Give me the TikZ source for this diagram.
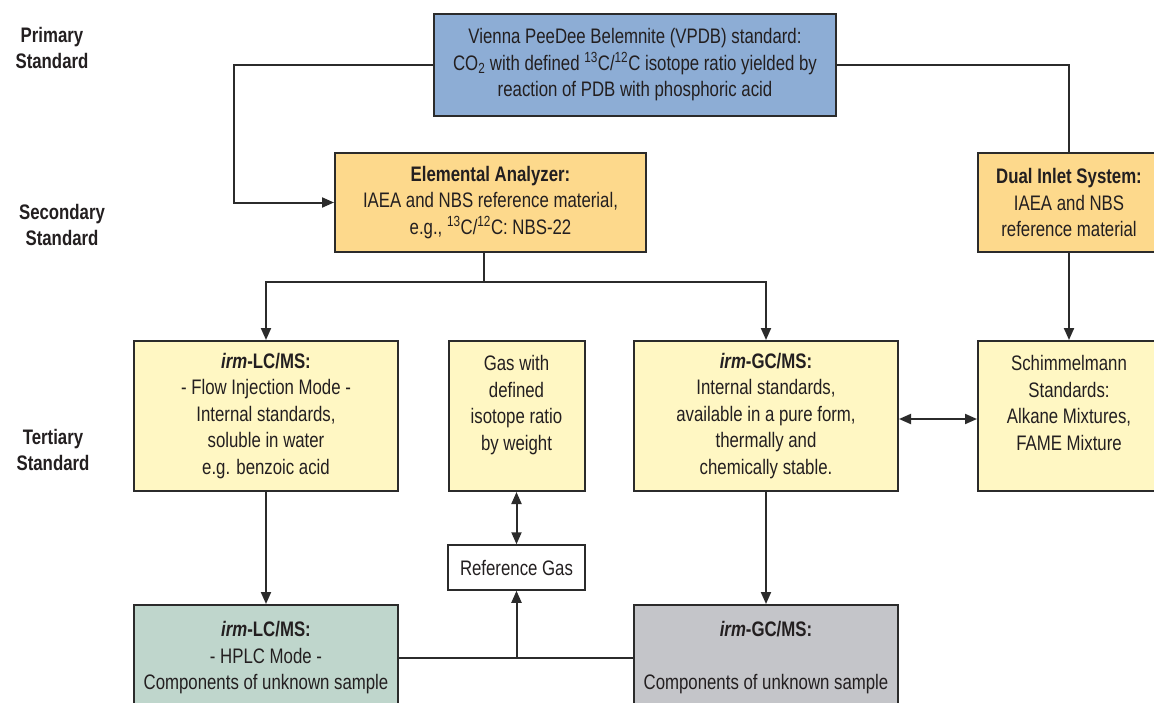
\documentclass[tikz,border=0pt]{standalone}
\usepackage{fontspec}
\setmainfont[FakeStretch=0.8]{Liberation Sans}
\usetikzlibrary{arrows.meta}
\definecolor{txt}{HTML}{231F20}
\definecolor{bord}{HTML}{2B2B2B}
\definecolor{cblue}{HTML}{8DADD5}
\definecolor{corange}{HTML}{FDD98C}
\definecolor{cyellow}{HTML}{FFF7C3}
\definecolor{cgreen}{HTML}{BFD6CC}
\definecolor{cgray}{HTML}{C4C5C9}
\begin{document}
\begin{tikzpicture}[x=1pt,y=-1pt,
  font=\fontsize{21}{26.5}\selectfont, text=txt,
  box/.style={draw=bord, line width=2pt, inner sep=0pt, align=center},
  conn/.style={line width=2pt, draw=bord},
  arr/.style={conn, -{Triangle[length=12pt,width=10pt]}},
  darr/.style={conn, {Triangle[length=12pt,width=10pt]}-{Triangle[length=12pt,width=10pt]}},
  lab/.style={font=\fontsize{21}{26.5}\selectfont\bfseries, align=center}]
\useasboundingbox (0,0) rectangle (1154,702);
\fill[white] (0,0) rectangle (1154,702);

% level labels
\node[lab] (lp) at (52,48) {Primary\\Standard};
\node[lab] (ls) at (62,225) {Secondary\\Standard};
\node[lab] (lt) at (53,450) {Tertiary\\Standard};

% boxes
\node[box, fill=cblue, minimum width=402, minimum height=102] (prim) at (635,65)
  {Vienna PeeDee Belemnite (VPDB) standard:\\
   CO\textsubscript{2} with defined \textsuperscript{13}C/\textsuperscript{12}C isotope ratio yielded by\\
   reaction of PDB with phosphoric acid};
\node[box, fill=corange, minimum width=311, minimum height=99] (ea) at (490.5,202.5)
  {\textbf{Elemental Analyzer:}\\ IAEA and NBS reference material,\\ e.g., \textsuperscript{13}C/\textsuperscript{12}C: NBS-22};
\node[box, fill=corange, minimum width=182, minimum height=99] (dual) at (1069,202.5)
  {\textbf{Dual Inlet System:}\\ IAEA and NBS\\ reference material};

\node[box, fill=cyellow, minimum width=264, minimum height=150] (lc) at (266,416)
  {\textbf{\textit{irm}-LC/MS:}\\ - Flow Injection Mode -\\ Internal standards,\\ soluble in water\\ e.g. benzoic acid};
\node[box, fill=cyellow, minimum width=136, minimum height=150] (gas) at (516.5,416)
  {Gas with\\ defined\\ isotope ratio\\ by weight\\ \mbox{}};
\node[box, fill=cyellow, minimum width=264, minimum height=150] (gc) at (766,416)
  {\textbf{\textit{irm}-GC/MS:}\\ Internal standards,\\ available in a pure form,\\ thermally and\\ chemically stable.};
\node[box, fill=cyellow, minimum width=182, minimum height=150] (schim) at (1069,416)
  {Schimmelmann\\ Standards:\\ Alkane Mixtures,\\ FAME Mixture\\ \mbox{}};

\node[box, fill=white, line width=1.5pt, minimum width=137, minimum height=45] (ref) at (516.5,567.5)
  {Reference Gas};

\node[box, fill=cgreen, minimum width=264, minimum height=106] (lcb) at (266,658)
  {\textbf{\textit{irm}-LC/MS:}\\ - HPLC Mode -\\ Components of unknown sample};
\node[box, fill=cgray, minimum width=264, minimum height=106] (gcb) at (766,658)
  {\textbf{\textit{irm}-GC/MS:}\\ \mbox{}\\ Components of unknown sample};

% connectors
\coordinate (c1) at (234,202.5);
\draw[arr] (prim.west) -| (c1) -- (ea.west);
\draw[conn] (prim.east) -| (dual.north);
\coordinate (split) at (484,282);
\draw[conn] (ea.south -| split) -- (split);
\draw[arr] (split) -| (lc.north);
\draw[arr] (split) -| (gc.north);
\draw[arr] (dual.south) -- (schim.north);
\draw[darr] ([yshift=-3pt]gc.east) -- ([yshift=-3pt]schim.west);
\draw[darr] (gas.south) -- (ref.north);
\draw[arr] (lc.south) -- (lcb.north);
\draw[arr] (gc.south) -- (gcb.north);
\draw[conn] (lcb.east) -- (gcb.west);
\draw[arr] (ref.south |- lcb.east) -- (ref.south);
\end{tikzpicture}
\end{document}
